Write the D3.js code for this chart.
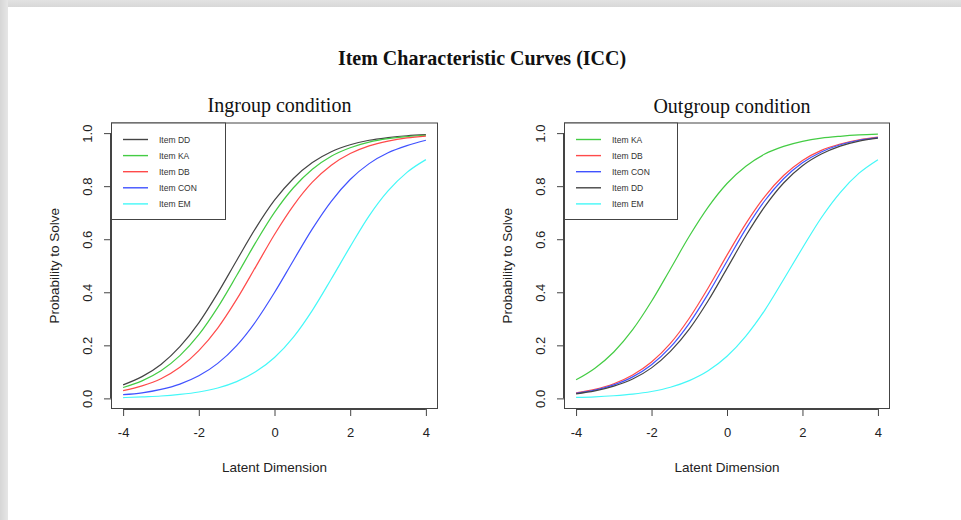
<!DOCTYPE html>
<html>
<head>
<meta charset="utf-8">
<script src="https://cdn.jsdelivr.net/npm/d3@7"></script>
<style>
  html, body { margin: 0; padding: 0; background: #fff; }
  svg { display: block; }
</style>
</head>
<body>
<script>
// ---- data ----
const thetaGrid = [-4, -3.5, -3, -2.5, -2, -1.5, -1, -0.5, 0, 0.5, 1, 1.5, 2, 2.5, 3, 3.5, 4];
const xTicks = [-4, -2, 0, 2, 4];
const yTicks = [0.0, 0.2, 0.4, 0.6, 0.8, 1.0];

const ingroupItems = ["Item DD", "Item KA", "Item DB", "Item CON", "Item EM"];
const ingroupColors = ["#444444", "#44cc44", "#ff4a4a", "#4052ff", "#44f8f8"];
const ingroupDD  = [0.051, 0.082, 0.128, 0.195, 0.285, 0.397, 0.520, 0.641, 0.747, 0.829, 0.889, 0.930, 0.956, 0.973, 0.983, 0.990, 0.994];
const ingroupKA  = [0.041, 0.066, 0.104, 0.161, 0.240, 0.343, 0.463, 0.587, 0.701, 0.794, 0.864, 0.913, 0.945, 0.966, 0.979, 0.987, 0.992];
const ingroupDB  = [0.029, 0.047, 0.074, 0.117, 0.180, 0.265, 0.373, 0.495, 0.618, 0.727, 0.815, 0.879, 0.923, 0.952, 0.970, 0.982, 0.989];
const ingroupCON = [0.014, 0.021, 0.034, 0.054, 0.085, 0.132, 0.199, 0.289, 0.399, 0.520, 0.639, 0.743, 0.825, 0.885, 0.926, 0.953, 0.973];
const ingroupEM  = [0.003, 0.006, 0.009, 0.015, 0.024, 0.039, 0.063, 0.100, 0.154, 0.231, 0.332, 0.450, 0.572, 0.688, 0.782, 0.852, 0.900];

const outgroupItems = ["Item KA", "Item DB", "Item CON", "Item DD", "Item EM"];
const outgroupColors = ["#44cc44", "#ff4a4a", "#4052ff", "#444444", "#44f8f8"];
const outgroupKA  = [0.070, 0.114, 0.175, 0.259, 0.366, 0.488, 0.611, 0.721, 0.810, 0.875, 0.921, 0.950, 0.969, 0.981, 0.988, 0.993, 0.996];
const outgroupDB  = [0.021, 0.034, 0.055, 0.088, 0.137, 0.207, 0.302, 0.416, 0.540, 0.659, 0.761, 0.840, 0.897, 0.935, 0.959, 0.975, 0.985];
const outgroupCON = [0.019, 0.031, 0.051, 0.081, 0.127, 0.193, 0.283, 0.394, 0.517, 0.639, 0.745, 0.828, 0.888, 0.929, 0.956, 0.973, 0.983];
const outgroupDD  = [0.017, 0.028, 0.046, 0.073, 0.115, 0.177, 0.261, 0.368, 0.490, 0.613, 0.723, 0.812, 0.877, 0.921, 0.951, 0.970, 0.981];
const outgroupEM  = [0.004, 0.006, 0.010, 0.016, 0.026, 0.042, 0.067, 0.104, 0.159, 0.235, 0.332, 0.448, 0.567, 0.681, 0.776, 0.849, 0.900];

const mainTitle = "Item Characteristic Curves (ICC)";
const xTitle = "Latent Dimension";
const yTitle = "Probability to Solve";

// ---- drawing ----
const W = 961, H = 520;
const svg = d3.select("body").append("svg").attr("width", W).attr("height", H);

const defs = svg.append("defs");
const lg = defs.append("linearGradient").attr("id", "lshadow").attr("x1", "0").attr("x2", "1").attr("y1", "0").attr("y2", "0");
lg.append("stop").attr("offset", "0%").attr("stop-color", "#d6d6d6");
lg.append("stop").attr("offset", "100%").attr("stop-color", "#e6e6e6");
const tg = defs.append("linearGradient").attr("id", "tshadow").attr("x1", "0").attr("x2", "0").attr("y1", "0").attr("y2", "1");
tg.append("stop").attr("offset", "0%").attr("stop-color", "#e2e2e2");
tg.append("stop").attr("offset", "100%").attr("stop-color", "#d8d8d8");

svg.append("rect").attr("x", 0).attr("y", 0).attr("width", W).attr("height", 7).attr("fill", "url(#tshadow)");
svg.append("rect").attr("x", 0).attr("y", 0).attr("width", 8).attr("height", H).attr("fill", "url(#lshadow)");
svg.append("rect").attr("x", 8).attr("y", 7).attr("width", W - 8).attr("height", H - 7).attr("fill", "#fff");

svg.append("text")
  .attr("x", 482).attr("y", 65)
  .attr("text-anchor", "middle")
  .attr("font-family", "'Liberation Serif', 'DejaVu Serif', serif")
  .attr("font-weight", "bold")
  .attr("font-size", 20)
  .attr("fill", "#111")
  .text(mainTitle);

const panels = [
  { title: "Ingroup condition", left: 111, right: 438, titleY: 112,
    items: ingroupItems, colors: ingroupColors,
    series: [ingroupDD, ingroupKA, ingroupDB, ingroupCON, ingroupEM],
    legendRight: 225 },
  { title: "Outgroup condition", left: 564, right: 890, titleY: 113,
    items: outgroupItems, colors: outgroupColors,
    series: [outgroupKA, outgroupDB, outgroupCON, outgroupDD, outgroupEM],
    legendRight: 677 }
];

const plotTop = 122.5, plotBottom = 409;
const sans = "'Liberation Sans', Arial, Helvetica, sans-serif";
const axisColor = "#444";

panels.forEach(p => {
  const x = d3.scaleLinear().domain([-4.32, 4.32]).range([p.left, p.right]);
  const y = d3.scaleLinear().domain([-0.04, 1.04]).range([plotBottom, plotTop]);
  const g = svg.append("g");

  // curves
  const line = d3.line()
    .x((d, i) => x(thetaGrid[i]))
    .y(d => y(d))
    .curve(d3.curveMonotoneX);
  p.series.forEach((s, k) => {
    g.append("path").attr("d", line(s))
      .attr("fill", "none").attr("stroke", p.colors[k]).attr("stroke-width", 1.2);
  });

  // x axis
  const xa = g.append("g").attr("transform", `translate(0,${plotBottom})`)
    .call(d3.axisBottom(x).tickValues(xTicks).tickSize(7).tickPadding(12).tickFormat(d3.format("d")));
  xa.select(".domain").attr("d", `M${x(-4)},0.5H${x(4)}`).attr("stroke", axisColor);
  xa.selectAll(".tick line").attr("stroke", axisColor);
  xa.selectAll(".tick text")
    .attr("font-family", sans).attr("font-size", 13).attr("fill", "#222")
    .text(d => d < 0 ? "-" + Math.abs(d) : String(d));

  // y axis
  const ya = g.append("g").attr("transform", `translate(${p.left},0)`)
    .call(d3.axisLeft(y).tickValues(yTicks).tickSize(7).tickFormat(d3.format(".1f")));
  ya.select(".domain").attr("d", `M-0.5,${y(0)}V${y(1)}`).attr("stroke", axisColor);
  ya.selectAll(".tick line").attr("stroke", axisColor);
  ya.selectAll(".tick text")
    .attr("font-family", sans).attr("font-size", 13).attr("fill", "#222")
    .attr("x", null).attr("dy", null)
    .attr("text-anchor", "middle")
    .attr("dominant-baseline", "central")
    .attr("transform", "translate(-24,0) rotate(-90)");

  // box
  g.append("rect").attr("x", p.left + 0.5).attr("y", plotTop + 0.5)
    .attr("width", p.right - p.left - 1).attr("height", plotBottom - plotTop - 1)
    .attr("fill", "none").attr("stroke", axisColor).attr("stroke-width", 1);

  // panel title
  g.append("text")
    .attr("x", (p.left + p.right) / 2 + 5).attr("y", p.titleY)
    .attr("text-anchor", "middle")
    .attr("font-family", "'Liberation Serif', 'DejaVu Serif', serif")
    .attr("font-size", 20).attr("fill", "#111")
    .text(p.title);

  // axis titles
  g.append("text")
    .attr("x", (p.left + p.right) / 2).attr("y", 472)
    .attr("text-anchor", "middle")
    .attr("font-family", sans).attr("font-size", 13.5).attr("fill", "#222")
    .text(xTitle);
  g.append("text")
    .attr("transform", `translate(${p.left - 57},${(plotTop + plotBottom) / 2}) rotate(-90)`)
    .attr("text-anchor", "middle")
    .attr("dominant-baseline", "central")
    .attr("font-family", sans).attr("font-size", 13.5).attr("fill", "#222")
    .text(yTitle);

  // legend
  const lgG = g.append("g");
  lgG.append("rect").attr("x", p.left + 0.5).attr("y", plotTop + 0.5)
    .attr("width", p.legendRight - p.left).attr("height", 219 - plotTop)
    .attr("fill", "#fff").attr("stroke", axisColor).attr("stroke-width", 1);
  p.items.forEach((name, k) => {
    const ly = 139.5 + k * 16.1;
    lgG.append("line")
      .attr("x1", p.left + 12).attr("x2", p.left + 37)
      .attr("y1", ly).attr("y2", ly)
      .attr("stroke", p.colors[k]).attr("stroke-width", 1.4);
    lgG.append("text")
      .attr("x", p.left + 48).attr("y", ly)
      .attr("dominant-baseline", "central")
      .attr("font-family", sans).attr("font-size", 8.5).attr("fill", "#333")
      .text(name);
  });
});
</script>
</body>
</html>
